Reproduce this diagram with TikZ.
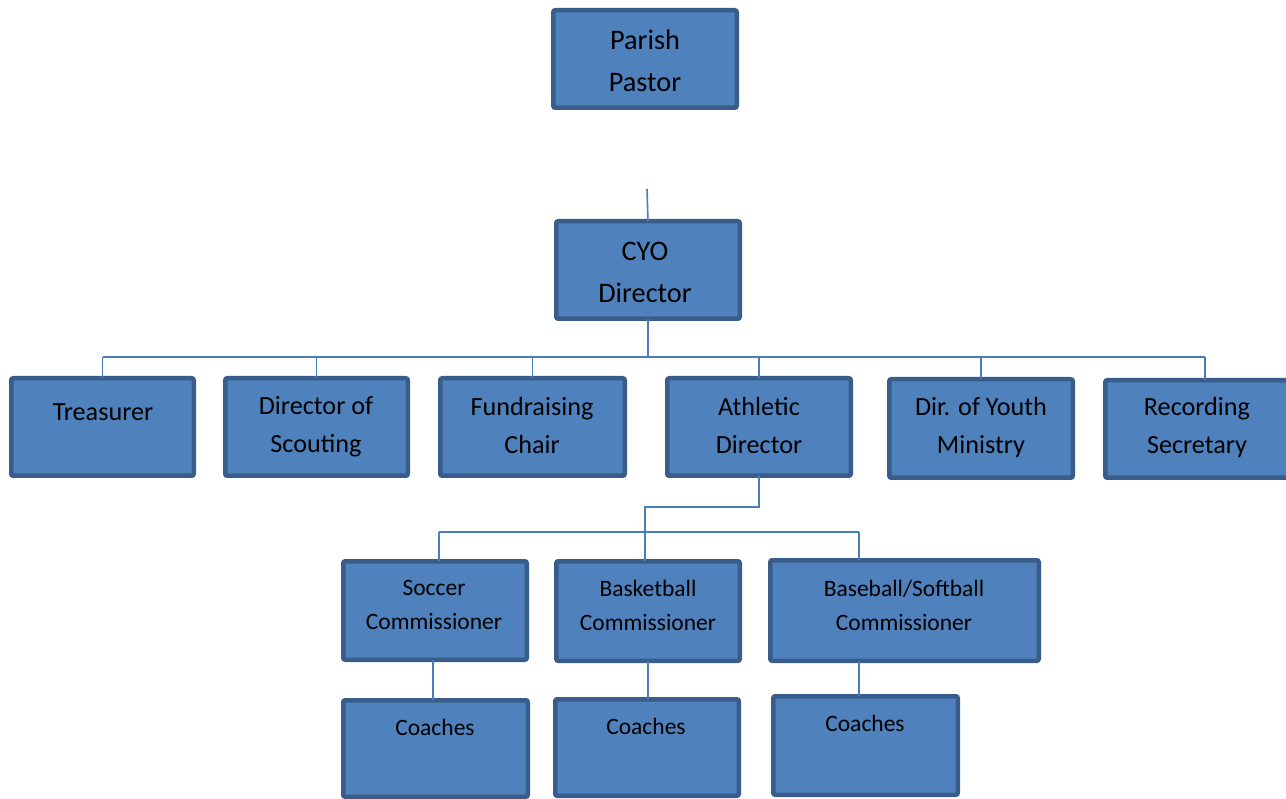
\documentclass[tikz,border=0pt]{standalone}
\usepackage{fontspec}
\setmainfont{Carlito}
\definecolor{boxfill}{HTML}{4F81BD}
\definecolor{boxline}{HTML}{385D8A}
\definecolor{conncol}{HTML}{4A7EBB}
\tikzset{
  orgbox/.style={draw=boxline, line width=4.5pt, fill=boxfill, rounded corners=2pt, inner sep=0pt, outer sep=0pt, anchor=north west},
  conn/.style={draw=conncol, line width=1.6pt},
  lbla/.style={align=center, inner sep=0pt, font=\fontsize{28.3}{42}\selectfont},
  lblb/.style={align=center, inner sep=0pt, font=\fontsize{26.2}{38}\selectfont},
  lblc/.style={align=center, inner sep=0pt, font=\fontsize{23.5}{34}\selectfont},
}
\newcommand\obox[5]{\node[orgbox, minimum width={#4-#2-4.5}, minimum height={#5-#3-4.5}] (#1) at ({#2+2.25},{#3+2.25}) {};}
\begin{document}
\begin{tikzpicture}[x=1pt,y=-1pt]
\useasboundingbox (0,0) rectangle (1286,799);
\clip (0,0) rectangle (1286,799);
% boxes
\obox{pastor}{551}{8}{739}{110}
\obox{cyo}{554}{219}{742}{321}
\obox{treas}{9}{376}{196}{478}
\obox{scout}{223}{376}{410}{478}
\obox{fund}{438}{376}{627}{478}
\obox{ath}{665}{376}{853}{478}
\obox{youth}{887}{377}{1075}{480}
\obox{rec}{1103}{378}{1307}{480}
\obox{soc}{341}{559}{529}{662}
\obox{bask}{554}{559}{742}{663}
\obox{bsb}{768}{558}{1041}{663}
\obox{coachA}{341}{698}{530}{799}
\obox{coachB}{553}{697}{741}{798}
\obox{coachC}{771}{694}{960}{797}
% labels
\node[lbla] (tpastor) at (645,61) {Parish\\Pastor};
\node[lbla] (tcyo) at (645,272) {CYO\\Director};
\node[lblb] (ttreas) at (103,412) {Treasurer};
\node[lblb] (tscout) at (316,427) {Director of\\Scouting};
\node[lblb] (tfund) at (532,426) {Fundraising\\Chair};
\node[lblb] (tath) at (759,426) {Athletic\\Director};
\node[lblb] (tyouth) at (981,428) {Dir. of Youth\\Ministry};
\node[lblb] (trec) at (1197,428) {Recording\\Secretary};
\node[lblc] (tsoc) at (434,605) {Soccer\\Commissioner};
\node[lblc] (tbask) at (648,605) {Basketball\\Commissioner};
\node[lblc] (tbsb) at (904,605) {Baseball/Softball\\Commissioner};
\node[lblc] (tcA) at (435,727) {Coaches};
\node[lblc] (tcB) at (646,726) {Coaches};
\node[lblc] (tcC) at (865,723) {Coaches};
% connector coordinates
\coordinate (stub) at (647,189);
\coordinate (bus) at (647,357);
\coordinate (jog) at (645,507);
\coordinate (subbus) at (645,532);
\coordinate (socx) at (439,532);
\coordinate (bsbx) at (859,532);
\coordinate (cAx) at (433,680);
\coordinate (cBx) at (648,680);
\coordinate (cCx) at (859,680);
% connectors
\draw[conn] (stub) -- (cyo.north);
\draw[conn] (cyo.south) -- (cyo.south |- bus);
\draw[conn] (treas.north |- bus) -- (rec.north |- bus);
\foreach \b in {treas,scout,fund,ath,youth,rec}
  \draw[conn] (\b.north |- bus) -- (\b.north);
\draw[conn] (ath.south) |- (jog) -- (jog |- bask.north);
\draw[conn] (socx) -- (bsbx);
\draw[conn] (socx) -- (socx |- soc.north);
\draw[conn] (bsbx) -- (bsbx |- bsb.north);
\draw[conn] (cAx |- soc.south) -- (cAx |- coachA.north);
\draw[conn] (cBx |- bask.south) -- (cBx |- coachB.north);
\draw[conn] (cCx |- bsb.south) -- (cCx |- coachC.north);
\end{tikzpicture}
\end{document}
